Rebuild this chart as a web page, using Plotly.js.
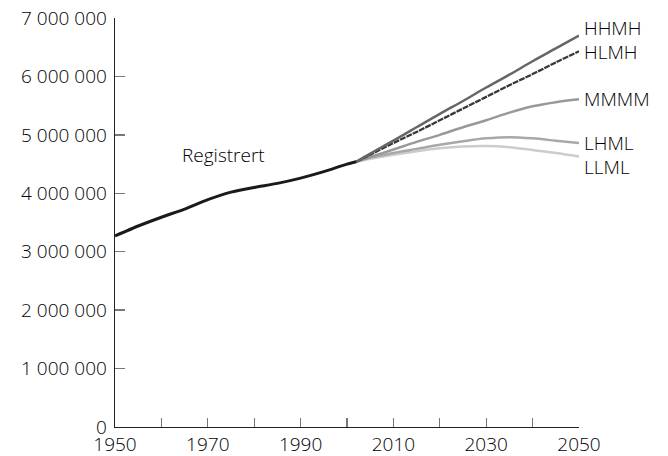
<!DOCTYPE html>
<html>
<head>
<meta charset="utf-8">
<script src="https://cdn.plot.ly/plotly-3.0.1.min.js"></script>
<style>html,body{margin:0;padding:0;background:#fff}#chart{width:668px;height:456px}</style>
</head>
<body>
<div id="chart"></div>
<script>
// Registered population
const regYears = [1950, 1955, 1960, 1965, 1970, 1975, 1980, 1985, 1990, 1995, 2000, 2002];
const regValues = [3270000, 3440000, 3590000, 3730000, 3890000, 4020000, 4100000, 4170000, 4260000, 4370000, 4500000, 4540000];

// Projections
const projYears = [2002, 2005, 2010, 2015, 2020, 2025, 2030, 2035, 2040, 2045, 2050];
const HHMH = [4540000, 4680000, 4900000, 5130000, 5360000, 5580000, 5810000, 6030000, 6260000, 6480000, 6700000];
const HLMH = [4540000, 4660000, 4860000, 5050000, 5250000, 5450000, 5650000, 5850000, 6040000, 6240000, 6430000];
const MMMM = [4540000, 4620000, 4750000, 4880000, 5000000, 5130000, 5250000, 5380000, 5490000, 5560000, 5610000];
const LHML = [4540000, 4610000, 4690000, 4760000, 4830000, 4890000, 4940000, 4960000, 4940000, 4900000, 4860000];
const LLML = [4540000, 4590000, 4660000, 4720000, 4770000, 4800000, 4810000, 4790000, 4740000, 4690000, 4630000];

const seriesNames = ['HHMH', 'HLMH', 'MMMM', 'LHML', 'LLML'];
const seriesValues = [HHMH, HLMH, MMMM, LHML, LLML];
const regLabel = 'Registrert';

const styles = {
  HHMH: {color: '#666666', width: 2.5, dash: 'solid', yshift: 8},
  HLMH: {color: '#383838', width: 2.3, dash: '6px,1px', yshift: -1},
  MMMM: {color: '#999999', width: 2.5, dash: 'solid', yshift: 0},
  LHML: {color: '#a8a8a8', width: 2.5, dash: 'solid', yshift: 0},
  LLML: {color: '#cccccc', width: 2.5, dash: 'solid', yshift: -11}
};

const FONT = 'Open Sans, Noto Sans, sans-serif';
const FSIZE = 19;
const FWEIGHT = 300;
const FCOLOR = '#000000';

const traces = seriesNames.slice().reverse().map(function(name) {
  const v = seriesValues[seriesNames.indexOf(name)];
  return {
    x: projYears, y: v, type: 'scatter', mode: 'lines', name: name,
    line: {color: styles[name].color, width: styles[name].width, dash: styles[name].dash, shape: 'spline', smoothing: 1},
    hoverinfo: 'skip'
  };
});
traces.push({
  x: regYears, y: regValues, type: 'scatter', mode: 'lines', name: regLabel,
  line: {color: '#1a1a1a', width: 3, shape: 'spline', smoothing: 0.6},
  hoverinfo: 'skip'
});

const annotations = seriesNames.map(function(name) {
  const v = seriesValues[seriesNames.indexOf(name)];
  return {
    x: projYears[projYears.length - 1], y: v[v.length - 1], xref: 'x', yref: 'y',
    text: name, showarrow: false, xanchor: 'left', yanchor: 'middle',
    xshift: 4, yshift: styles[name].yshift, borderpad: 0,
    font: {family: FONT, size: FSIZE, color: FCOLOR, weight: FWEIGHT}
  };
});
annotations.push({
  x: 1973.3, y: 4655000, xref: 'x', yref: 'y', text: regLabel, showarrow: false,
  xanchor: 'center', yanchor: 'middle', borderpad: 0,
  font: {family: FONT, size: FSIZE, color: FCOLOR, weight: FWEIGHT}
});

const layout = {
  width: 668, height: 456,
  margin: {l: 115, r: 89, t: 18, b: 29, pad: 0},
  paper_bgcolor: '#ffffff', plot_bgcolor: '#ffffff',
  showlegend: false,
  separators: ', ',
  font: {family: FONT, size: FSIZE, color: FCOLOR, weight: FWEIGHT},
  xaxis: {
    range: [1950, 2050], dtick: 20, tick0: 1950,
    showgrid: false, zeroline: false,
    showline: true, linecolor: '#222222', linewidth: 1.3,
    ticks: 'inside', ticklen: 9, tickcolor: '#777777', tickwidth: 1.3,
    minor: {dtick: 10, tick0: 1950, ticks: 'inside', ticklen: 9, tickcolor: '#777777', tickwidth: 1.3, showgrid: false},
    ticklabelstandoff: 0,
    tickfont: {family: FONT, size: FSIZE, color: FCOLOR, weight: FWEIGHT},
    fixedrange: true
  },
  yaxis: {
    range: [0, 7000000], dtick: 1000000,
    showgrid: false, zeroline: false,
    showline: true, linecolor: '#222222', linewidth: 1.3,
    ticks: 'inside', ticklen: 10, tickcolor: '#777777', tickwidth: 1.3,
    tickformat: ',d',
    ticklabelstandoff: 3,
    tickfont: {family: FONT, size: FSIZE, color: FCOLOR, weight: FWEIGHT},
    fixedrange: true
  },
  annotations: annotations
};

Plotly.newPlot('chart', traces, layout, {displayModeBar: false, staticPlot: true});
</script>
</body>
</html>
